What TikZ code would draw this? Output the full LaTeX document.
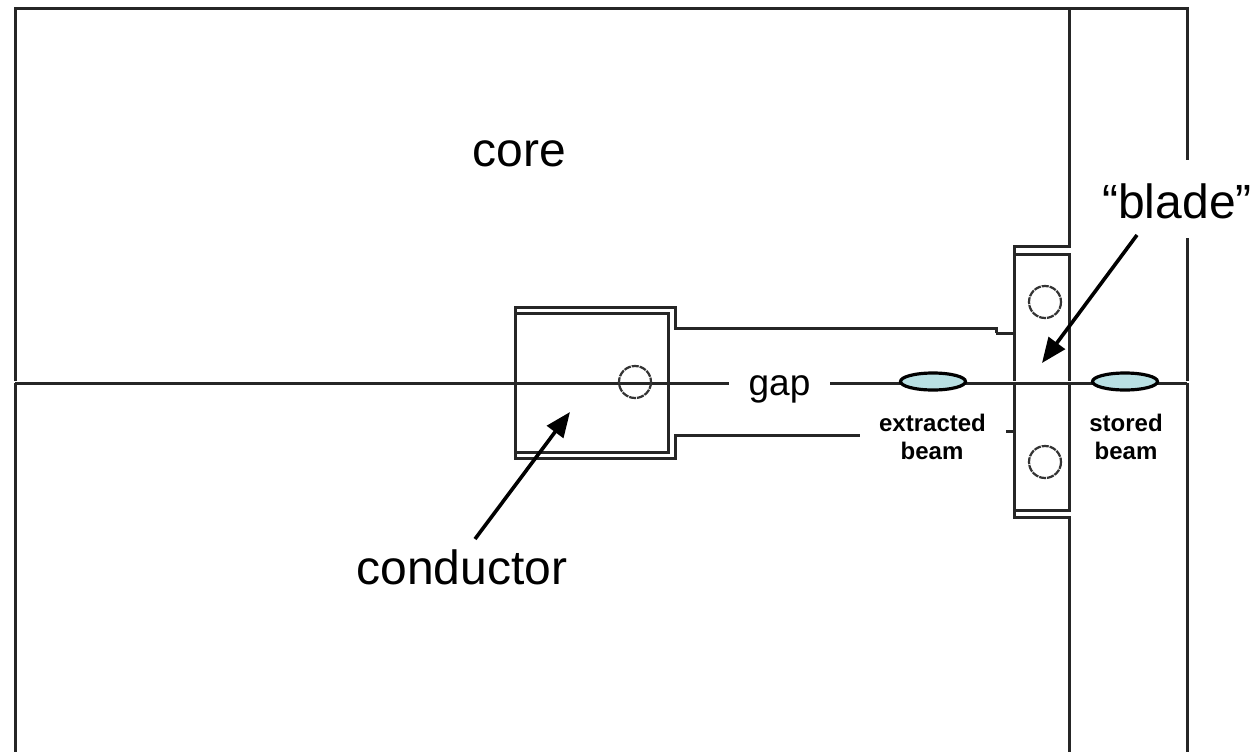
\documentclass[tikz,border=0pt]{standalone}
\usepackage{fontspec}
\setmainfont{Liberation Sans}
\usetikzlibrary{arrows.meta,shapes.geometric}
\definecolor{beamfill}{HTML}{B9E0E3}
\tikzset{
  x=1pt,y=-1pt,
  wall/.style={draw=black!85,line width=3pt,line join=miter},
  hole/.style={draw=black!80,line width=2.2pt,dash pattern=on 7pt off 1pt},
  beam/.style={draw=black,line width=3.2pt,fill=beamfill,ellipse,minimum width=65pt,minimum height=17pt,inner sep=0pt,outer sep=0pt},
  pointer/.style={draw=black,line width=3.6pt,-{Triangle[length=25pt,width=20pt]}},
  bigtext/.style={font=\fontsize{48pt}{52pt}\selectfont,inner sep=0pt,anchor=base},
  gaptext/.style={font=\fontsize{37pt}{40pt}\selectfont,inner sep=0pt,anchor=base},
  beamtext/.style={font=\bfseries\fontsize{24pt}{28pt}\selectfont,inner sep=0pt,anchor=base}
}
\begin{document}
\begin{tikzpicture}
\useasboundingbox (0,0) rectangle (1253,752);
% upper core outline
\draw[wall] (15,381) -- (15,9) -- (1187,9) -- (1187,160);
\draw[wall] (1187,238) -- (1187,381);
\draw[wall] (1069,9) -- (1069,246) -- (1014,246) -- (1014,381);
\draw[wall] (1014,254) -- (1069,254) -- (1069,381);
% mid-plane
\draw[wall] (15,383) -- (729,383);
\draw[wall] (830,383) -- (1187,383);
% lower core outline
\draw[wall] (15,383) -- (15,752);
\draw[wall] (1187,383) -- (1187,752);
\draw[wall] (1014,383) -- (1014,517) -- (1069,517) -- (1069,752);
\draw[wall] (1069,383) -- (1069,510) -- (1014,510);
\draw[wall] (1006,431) -- (1014,431);
% conductor
\draw[wall] (996,333) -- (1014,333);
\draw[wall] (996,333) -- (996,328) -- (675,328) -- (675,307) -- (515,307) -- (515,458) -- (675,458) -- (675,435) -- (860,435);
\draw[wall] (515,313) -- (668,313) -- (668,452) -- (515,452);
% holes
\draw[hole] (635,382) circle (16);
\draw[hole] (1045,302) circle (16);
\draw[hole] (1045,462) circle (16);
% beams
\node[beam] (ext) at (933,381.5) {};
\node[beam] (sto) at (1125,381.5) {};
% labels
\node[bigtext] (core) at (519.5,166) {core};
\node[bigtext] (cond) at (462,584) {conductor};
\node[bigtext] (blade) at (1177,218) {“blade”};
\node[gaptext] (gap) at (779.5,395) {gap};
\node[beamtext] (extl) at (932.5,431) {extracted};
\node[beamtext] (extm) at (932,459) {beam};
\node[beamtext] (stol) at (1126,431) {stored};
\node[beamtext] (stom) at (1126,459) {beam};
% pointers
\coordinate (condtail) at (475,539);
\coordinate (condtip) at (570,412);
\coordinate (bladetail) at (1137,235);
\coordinate (bladetip) at (1042,363);
\draw[pointer] (condtail) -- (condtip);
\draw[pointer] (bladetail) -- (bladetip);
\end{tikzpicture}
\end{document}
